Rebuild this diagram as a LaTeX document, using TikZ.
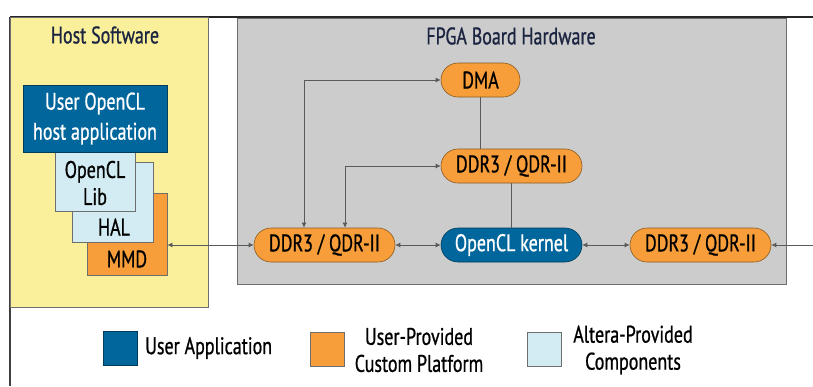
\documentclass[tikz,border=0pt]{standalone}
\usepackage{fontspec}
\setmainfont{PT Sans}[FakeStretch=0.75, FakeBold=0.8]
\usetikzlibrary{arrows.meta}

\definecolor{hostyellow}{HTML}{FAF09B}
\definecolor{boardgrey}{HTML}{CCCCCC}
\definecolor{userblue}{HTML}{00669B}
\definecolor{platorange}{HTML}{F79D3A}
\definecolor{alteralight}{HTML}{D3ECF4}
\definecolor{titlenavy}{HTML}{1B2440}
\definecolor{wiregrey}{HTML}{5A5A5A}
\definecolor{edgegrey}{HTML}{6E6E6E}
\definecolor{pilledge}{HTML}{8A5A20}

\tikzset{
  txt/.style={font=\fontsize{24}{27}\selectfont, text=black},
  pill/.style={txt, draw=pilledge, line width=0.6pt, fill=platorange,
    rounded corners=17pt, minimum width=141pt, minimum height=34pt, inner sep=0pt},
  layer/.style={txt, draw=edgegrey, line width=0.8pt, inner sep=0pt, align=center},
  swatch/.style={draw=edgegrey, line width=0.8pt, minimum width=34pt, minimum height=34pt, inner sep=0pt},
  legendtxt/.style={txt, align=center, inner sep=0pt},
  wire/.style={draw=wiregrey, line width=0.8pt},
  biwire/.style={wire, {Latex[length=5pt,width=5pt]}-{Latex[length=5pt,width=5pt]}},
  title/.style={font=\fontsize{24}{24}\selectfont, text=titlenavy},
}

\begin{document}
\begin{tikzpicture}[x=1pt,y=-1pt]
\useasboundingbox (0,0) rectangle (813,386);

% frame lines
\draw[line width=1.4pt, black!85] (10,17) -- (813,17);
\draw[line width=1.2pt, black!75] (10,17) -- (10,386);

% host software panel
\filldraw[fill=hostyellow, draw=edgegrey, line width=0.8pt] (10.6,17.7) rectangle (208,307);
\node[title] (hosttitle) at (105,35) {Host Software};

% board hardware panel
\filldraw[fill=boardgrey, draw=edgegrey, line width=0.9pt] (237,18.5) rectangle (786,284);
\node[title] (boardtitle) at (511,36) {FPGA Board Hardware};

% host software stack, back to front
\node[layer, fill=platorange, minimum width=80pt, minimum height=82pt] (mmd) at (127,234) {};
\node[txt] (mmdtext) at (127,259) {MMD};
\node[layer, fill=alteralight, minimum width=81pt, minimum height=80pt] (hal) at (112.5,202) {};
\node[txt] (haltext) at (114,227) {HAL};
\node[layer, fill=alteralight, minimum width=80pt, minimum height=59pt] (lib) at (95,181.5) {};
\node[txt, align=center, font=\fontsize{24}{27}\selectfont] (libtext) at (95,183) {OpenCL\\Lib};
\node[layer, fill=userblue, draw=userblue!60!black, text=white, minimum width=144pt, minimum height=67pt,
  font=\fontsize{24}{30}\selectfont] (hostapp) at (95,118.5) {User OpenCL\\host application};

% board components
\node[pill, minimum width=79pt] (dma) at (480.5,80) {DMA};
\node[pill] (ddrM) at (511.5,166) {DDR3 / QDR-II};
\node[pill] (ddrL) at (324.5,245) {DDR3 / QDR-II};
\node[pill, fill=userblue, draw=userblue!60!black, text=white] (kernel) at (511.5,245) {OpenCL kernel};
\node[pill] (ddrR) at (700.5,245) {DDR3 / QDR-II};
\coordinate (offboard) at (818,245);

% connections
\draw[wire] (dma.south) -- (dma.south |- ddrM.north);
\draw[wire] (ddrM.south) -- (kernel.north);
\draw[biwire] ([xshift=-20.5pt]ddrL.north) |- (dma.west);
\draw[biwire] ([xshift=20.5pt]ddrL.north) |- (ddrM.west);
\draw[biwire] (ddrL) -- (kernel);
\draw[biwire] (kernel) -- (ddrR);
\draw[biwire] (ddrR) -- (offboard);
\draw[biwire] (ddrL.west) -- (ddrL.west -| mmd.east);

% legend
\node[swatch, fill=userblue, draw=userblue!60!black] (keyuser) at (120,348) {};
\node[legendtxt, anchor=west] (keyusertext) at (145,348) {User Application};
\node[swatch, fill=platorange] (keyplat) at (327,349) {};
\node[legendtxt] (keyplattext) at (419,350) {User-Provided\\Custom Platform};
\node[swatch, fill=alteralight] (keyaltera) at (544,349) {};
\node[legendtxt] (keyalteratext) at (633,350) {Altera-Provided\\Components};
\end{tikzpicture}
\end{document}
